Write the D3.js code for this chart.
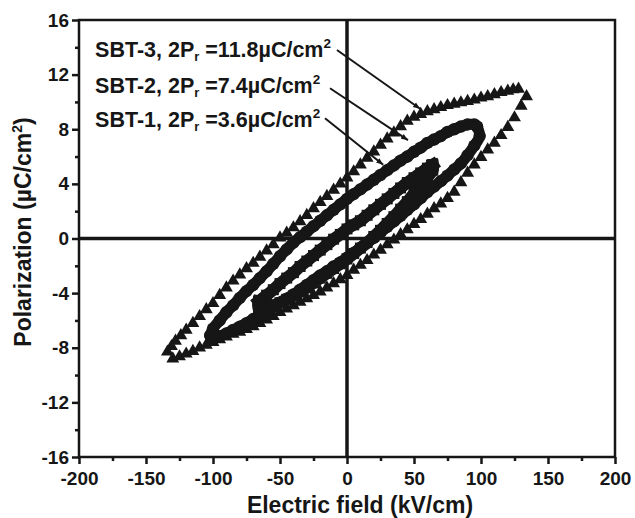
<!DOCTYPE html>
<html>
<head>
<meta charset="utf-8">
<script src="https://cdn.jsdelivr.net/npm/d3@7"></script>
<style>
  body { margin: 0; background: #fff; }
  text { font-family: "Liberation Sans", Arial, sans-serif; font-weight: bold; fill: #161616; }
</style>
</head>
<body>
<script>
// SBT-3 (triangles), [E kV/cm, P uC/cm2]
const sbt3Upper = [
  [128,10.95],[124,10.9],[120,10.8],[115,10.7],[110,10.55],[105,10.4],[100,10.3],[95,10.15],
  [90,10.05],[85,9.95],[80,9.85],[75,9.75],[70,9.6],[65,9.45],[60,9.3],[55,9.1],[50,8.9],
  [45,8.6],[40,8.2],[35,7.75],[30,7.3],[25,6.85],[20,6.35],[15,5.9],[10,5.4],[5,4.9],
  [0,4.45],[-5,4.0],[-10,3.55],[-15,3.1],[-20,2.65],[-25,2.2],[-30,1.7],[-35,1.25],
  [-40,0.8],[-45,0.4],[-50,0.05],[-55,-0.45],[-60,-0.9],[-65,-1.35],[-70,-1.8],[-75,-2.2],
  [-80,-2.65],[-85,-3.1],[-90,-3.6],[-95,-4.15],[-100,-4.75],[-105,-5.2],[-110,-5.7],
  [-115,-6.2],[-120,-6.7],[-124,-7.1],[-128,-7.5],[-131,-7.9],[-134,-8.3]
];
const sbt3Lower = [
  [-130,-8.8],[-125,-8.65],[-120,-8.45],[-115,-8.25],[-110,-8.0],[-105,-7.8],[-100,-7.6],
  [-95,-7.4],[-90,-7.2],[-85,-7.0],[-80,-6.85],[-75,-6.65],[-70,-6.45],[-65,-6.2],[-60,-5.95],
  [-55,-5.7],[-50,-5.4],[-45,-5.15],[-40,-4.9],[-35,-4.65],[-30,-4.4],[-25,-4.15],[-20,-3.9],
  [-15,-3.6],[-10,-3.3],[-5,-3.0],[0,-2.7],[5,-2.3],[10,-1.95],[15,-1.6],[20,-1.2],[25,-0.85],
  [30,-0.45],[35,-0.1],[40,0.3],[45,0.65],[50,1.05],[55,1.4],[60,1.8],[65,2.2],[70,2.55],
  [75,2.95],[80,3.4],[85,4.1],[90,4.8],[95,5.4],[100,5.95],[105,6.5],[110,7.0],[115,7.55],
  [120,8.15],[125,8.85],[130,9.7],[134,10.4]
];

// SBT-2 (circles)
const sbt2Upper = [
  [97,8.2],[95,8.35],[90,8.35],[85,8.2],[80,8.0],[75,7.8],[70,7.5],[65,7.25],[60,7.0],
  [55,6.65],[50,6.35],[45,6.0],[40,5.7],[35,5.35],[30,5.0],[25,4.65],[20,4.3],[15,3.95],
  [10,3.6],[5,3.25],[0,2.9],[-5,2.5],[-10,2.1],[-15,1.7],[-20,1.3],[-25,0.9],[-30,0.5],
  [-35,0.1],[-40,-0.3],[-45,-0.8],[-50,-1.3],[-55,-1.85],[-60,-2.4],[-65,-2.9],[-70,-3.4],
  [-75,-3.85],[-80,-4.35],[-85,-4.9],[-90,-5.4],[-95,-6.0],[-100,-6.6],[-102,-7.1]
];
const sbt2Lower = [
  [-102,-7.1],[-100,-7.35],[-95,-7.15],[-90,-6.95],[-85,-6.7],[-80,-6.45],[-75,-6.2],[-70,-5.9],
  [-65,-5.6],[-60,-5.3],[-55,-5.0],[-50,-4.7],[-45,-4.4],[-40,-4.1],[-35,-3.75],[-30,-3.4],
  [-25,-3.05],[-20,-2.7],[-15,-2.4],[-10,-2.05],[-5,-1.75],[0,-1.4],[5,-1.05],[10,-0.7],
  [15,-0.3],[20,0.05],[25,0.45],[30,0.85],[35,1.25],[40,1.65],[45,2.1],[50,2.5],[55,2.95],
  [60,3.4],[65,3.8],[70,4.2],[75,4.6],[80,5.05],[85,5.5],[90,6.1],[95,6.8],[99,7.5],[97,8.2]
];

// SBT-1 (squares)
const sbt1Upper = [
  [64,5.4],[60,5.15],[55,4.8],[50,4.45],[45,4.1],[40,3.7],[35,3.3],[30,2.9],[25,2.5],
  [20,2.1],[15,1.7],[10,1.3],[5,1.0],[0,0.7],[-5,0.3],[-10,-0.05],[-15,-0.45],[-20,-0.85],
  [-25,-1.25],[-30,-1.65],[-35,-2.05],[-40,-2.5],[-45,-2.9],[-50,-3.3],[-55,-3.75],
  [-60,-4.15],[-66,-4.6]
];
const sbt1Lower = [
  [-66,-4.6],[-66,-5.1],[-60,-5.05],[-55,-4.9],[-50,-4.7],[-45,-4.45],[-40,-4.2],[-35,-3.9],[-30,-3.6],
  [-25,-3.25],[-20,-2.9],[-15,-2.55],[-10,-2.2],[-5,-1.85],[0,-1.5],[5,-1.1],[10,-0.7],
  [15,-0.3],[20,0.15],[25,0.6],[30,1.1],[35,1.6],[40,2.15],[45,2.7],[50,3.3],[55,3.9],
  [60,4.5],[64,5.0],[64,5.4]
];

const labels = [
  { name: "SBT-3", pr: "11.8" },
  { name: "SBT-2", pr: "7.4" },
  { name: "SBT-1", pr: "3.6" }
];
// label text anchor [E, P] and arrow [from E,P, to E,P]
const labelPos = [[-188, 13.3], [-188, 10.66], [-188, 8.16]];
const arrows = [
  [[-7.5, 13.8], [54.5, 9.5]],
  [[-12.7, 11.0], [45.5, 7.2]],
  [[-16.4, 8.8], [27, 5.4]]
];

const xTicks = d3.range(-200, 201, 50);
const xMinor = d3.range(-175, 200, 50);
const yTicks = d3.range(-16, 17, 4);
const yMinor = d3.range(-14, 15, 4);

const width = 635;
const height = 518;
const margin = { top: 20, right: 20, bottom: 61, left: 79 };
const ink = "#161616";

const svg = d3.select("body").append("svg")
  .attr("width", width)
  .attr("height", height);

const x = d3.scaleLinear().domain([-200, 200]).range([margin.left, width - margin.right]);
const y = d3.scaleLinear().domain([-16, 16]).range([height - margin.bottom, margin.top]);

svg.append("defs").append("marker")
  .attr("id", "arrow")
  .attr("viewBox", "0 0 10 10")
  .attr("refX", 10).attr("refY", 5)
  .attr("markerWidth", 7).attr("markerHeight", 7)
  .attr("markerUnits", "userSpaceOnUse")
  .attr("orient", "auto")
  .append("path").attr("d", "M0,1L10,5L0,9Z").attr("fill", ink);

// minor ticks
svg.append("g")
  .attr("transform", `translate(0,${y(-16)})`)
  .call(d3.axisBottom(x).tickValues(xMinor).tickSize(4).tickFormat(""))
  .call((g) => g.select(".domain").remove())
  .call((g) => g.selectAll("line").attr("stroke", ink).attr("stroke-width", 2.5));
svg.append("g")
  .attr("transform", `translate(${x(-200)},0)`)
  .call(d3.axisLeft(y).tickValues(yMinor).tickSize(4).tickFormat(""))
  .call((g) => g.select(".domain").remove())
  .call((g) => g.selectAll("line").attr("stroke", ink).attr("stroke-width", 2.5));

// major ticks
svg.append("g")
  .attr("transform", `translate(0,${y(-16)})`)
  .call(d3.axisBottom(x).tickValues(xTicks).tickSize(7).tickPadding(8).tickFormat((d) => String(d)))
  .call((g) => g.select(".domain").remove())
  .call((g) => g.selectAll("line").attr("stroke", ink).attr("stroke-width", 2.5))
  .call((g) => g.selectAll("text").attr("font-size", 19).attr("font-family", null).attr("fill", ink));
svg.append("g")
  .attr("transform", `translate(${x(-200)},0)`)
  .call(d3.axisLeft(y).tickValues(yTicks).tickSize(7).tickPadding(3).tickFormat((d) => String(d)))
  .call((g) => g.select(".domain").remove())
  .call((g) => g.selectAll("line").attr("stroke", ink).attr("stroke-width", 2.5))
  .call((g) => g.selectAll("text").attr("font-size", 19).attr("font-family", null).attr("fill", ink));

// frame and zero lines
svg.append("rect")
  .attr("x", x(-200)).attr("y", y(16))
  .attr("width", x(200) - x(-200)).attr("height", y(-16) - y(16))
  .attr("fill", "none").attr("stroke", ink).attr("stroke-width", 2.5);
svg.append("line")
  .attr("x1", x(0)).attr("x2", x(0)).attr("y1", y(16)).attr("y2", y(-16))
  .attr("stroke", ink).attr("stroke-width", 3.5);
svg.append("line")
  .attr("x1", x(-200)).attr("x2", x(200)).attr("y1", y(0)).attr("y2", y(0))
  .attr("stroke", ink).attr("stroke-width", 3.5);

// loops
const marks = svg.append("g").attr("fill", ink);
const line = d3.line().x((d) => x(d[0])).y((d) => y(d[1])).curve(d3.curveCatmullRom);

const tri = d3.symbol(d3.symbolTriangle, 72);
marks.append("g")
  .selectAll("path")
  .data(sbt3Upper.concat(sbt3Lower))
  .join("path")
  .attr("transform", (d) => `translate(${x(d[0])},${y(d[1])})`)
  .attr("d", tri);

// circles: connecting line under the symbols
marks.append("g")
  .selectAll("path")
  .data([sbt2Upper, sbt2Lower])
  .join("path")
  .attr("d", line)
  .attr("fill", "none")
  .attr("stroke", ink)
  .attr("stroke-width", 11)
  .attr("stroke-linecap", "round")
  .attr("stroke-linejoin", "round");
marks.append("g")
  .selectAll("circle")
  .data(sbt2Upper.concat(sbt2Lower))
  .join("circle")
  .attr("cx", (d) => x(d[0]))
  .attr("cy", (d) => y(d[1]))
  .attr("r", 6.2);

// squares
const sq = 11;
marks.append("g")
  .selectAll("path")
  .data([sbt1Upper, sbt1Lower])
  .join("path")
  .attr("d", line)
  .attr("fill", "none")
  .attr("stroke", ink)
  .attr("stroke-width", 12)
  .attr("stroke-linecap", "square");
marks.append("g")
  .selectAll("rect")
  .data(sbt1Upper.concat(sbt1Lower))
  .join("rect")
  .attr("x", (d) => x(d[0]) - sq / 2)
  .attr("y", (d) => y(d[1]) - sq / 2)
  .attr("width", sq)
  .attr("height", sq);

// labels and arrows
labels.forEach((l, i) => {
  const t = svg.append("text")
    .attr("x", x(labelPos[i][0]))
    .attr("y", y(labelPos[i][1]))
    .attr("font-size", 21.5);
  t.append("tspan").text(`${l.name}, 2P`);
  t.append("tspan").attr("font-size", 13).attr("dy", 4).text("r");
  t.append("tspan").attr("dy", -4).text(` =${l.pr}\u00b5C/cm`);
  t.append("tspan").attr("font-size", 13.5).attr("dy", -9).text("2");
});

svg.append("g")
  .selectAll("line")
  .data(arrows)
  .join("line")
  .attr("x1", (d) => x(d[0][0]))
  .attr("y1", (d) => y(d[0][1]))
  .attr("x2", (d) => x(d[1][0]))
  .attr("y2", (d) => y(d[1][1]))
  .attr("stroke", ink)
  .attr("stroke-width", 2)
  .attr("marker-end", "url(#arrow)");

// axis titles
svg.append("text")
  .attr("x", 360)
  .attr("y", 513)
  .attr("text-anchor", "middle")
  .attr("font-size", 23)
  .text("Electric field (kV/cm)");

const yt = svg.append("text")
  .attr("transform", `translate(31,${232}) rotate(-90)`)
  .attr("text-anchor", "middle")
  .attr("font-size", 23);
yt.append("tspan").text("Polarization (\u00b5C/cm");
yt.append("tspan").attr("font-size", 14).attr("dy", -9).text("2");
yt.append("tspan").attr("dy", 9).text(")");
</script>
</body>
</html>
